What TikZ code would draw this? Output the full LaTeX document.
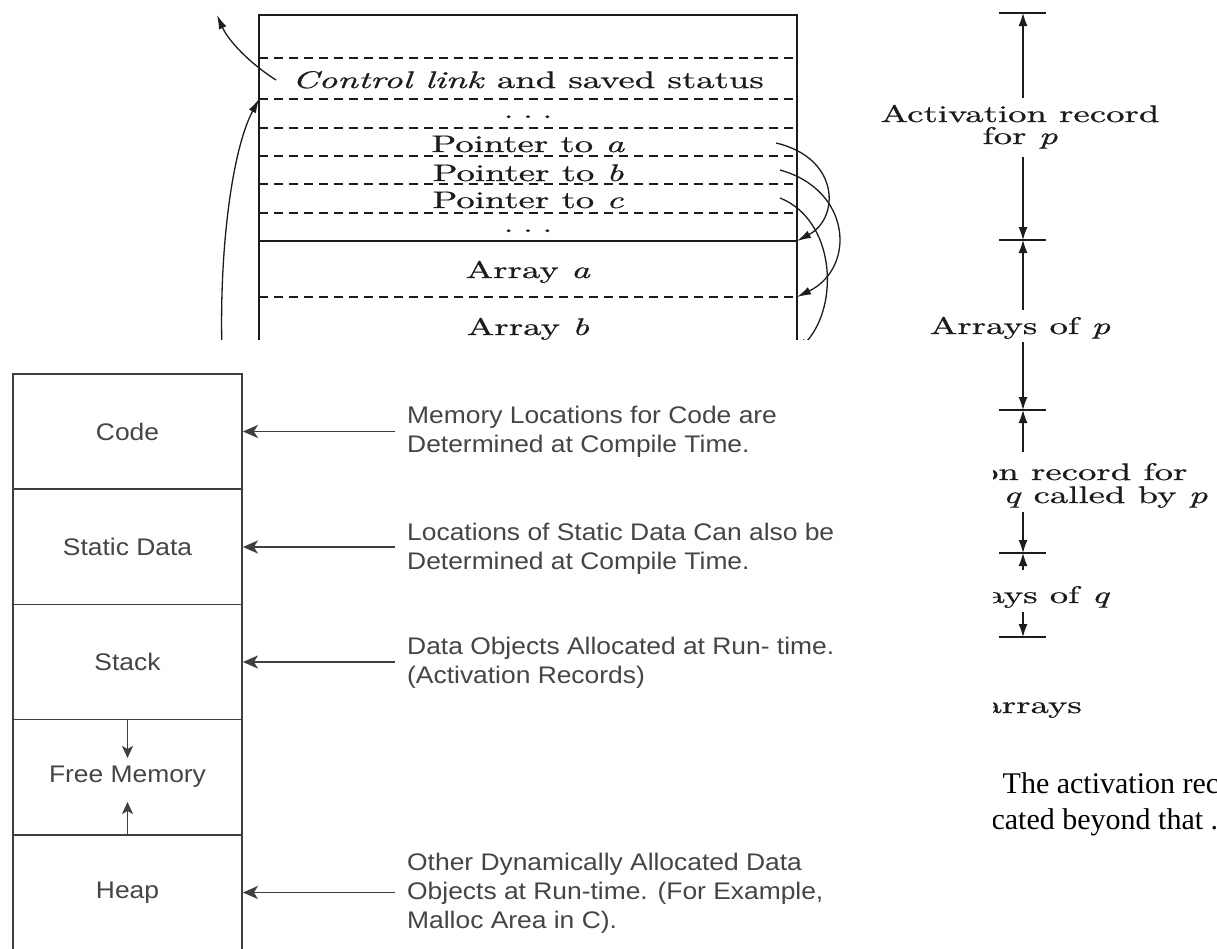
\documentclass[tikz,border=0pt]{standalone}
\usepackage{fontspec}
\usepackage{graphicx}
\usetikzlibrary{arrows.meta}
\newfontfamily\memfont[FakeStretch=1.1]{Liberation Sans}
\newfontfamily\bodyfont{Liberation Serif}
\newfontfamily\bkserif{lmroman10-regular}[Extension=.otf, FakeBold=0.6,
  ItalicFont=lmroman10-italic, ItalicFeatures={FakeBold=0.6}]
\definecolor{ink}{HTML}{1C1C1C}
\definecolor{memline}{HTML}{3F3F3F}
\definecolor{memtext}{HTML}{454545}
\newcommand{\bkfont}{\bkserif\fontsize{24}{23}\selectfont}
\newcommand{\bk}[1]{\scalebox{1.53}[1]{#1}}

\tikzset{
  bkline/.style={draw=ink, line width=1.4pt},
  bkdash/.style={draw=ink, line width=1.2pt, dash pattern=on 9pt off 6pt},
  bktxt/.style={font=\bkfont, text=ink, inner sep=0pt, anchor=base},
  bkarrow/.style={draw=ink, line width=1.3pt, -{Latex[length=14pt,width=8pt]}},
  dimarrow/.style={draw=ink, line width=1.3pt, -{Latex[length=13pt,width=9pt]}},
  dimtick/.style={draw=ink, line width=1.3pt},
  memcell/.style={draw=memline, line width=1.8pt, minimum width=229pt, minimum height=115pt,
    inner sep=0pt, font=\memfont\fontsize{24}{29}\selectfont, text=memtext},
  memtxt/.style={font=\memfont\fontsize{24}{29}\selectfont, text=memtext, align=left,
    anchor=west, inner sep=0pt},
  memarrow/.style={draw=memline, line width=1.8pt, -{Stealth[length=15pt,width=13pt,inset=4pt]}},
  memsmall/.style={draw=memline, line width=1.8pt, -{Stealth[length=12pt,width=11pt,inset=3pt]}},
  bodytxt/.style={font=\bodyfont\fontsize{30}{36}\selectfont, text=black, inner sep=0pt,
    anchor=base west},
}

\begin{document}
\begin{tikzpicture}[x=1pt,y=-1pt]
\useasboundingbox (0,0) rectangle (1217,948);
\clip (0,0) rectangle (1217,948);
\fill[white] (0,0) rectangle (1217,948);

% ---- activation record of p: frame and field separators
\draw[bkline] (259,352) -- (259,15) -- (797,15) -- (797,352);
\foreach \y in {58,99,128,156,184,213,297}
  \draw[bkdash] (259,\y) -- (797,\y);
\draw[bkline] (259,241) -- (797,241);

\node[bktxt] (ctl)  at (528,88)  {\bk{\textit{Control link} and saved status}};
\node[bktxt] (dt1)  at (528,118) {\bk{.\hspace{0.25em}.\hspace{0.25em}.}};
\node[bktxt] (pa)   at (528,152) {\bk{Pointer to \textit{a}}};
\node[bktxt] (pb)   at (528,181) {\bk{Pointer to \textit{b}}};
\node[bktxt] (pc)   at (528,208) {\bk{Pointer to \textit{c}}};
\node[bktxt] (dt2)  at (528,232) {\bk{.\hspace{0.25em}.\hspace{0.25em}.}};
\node[bktxt] (arra) at (528,278) {\bk{Array \textit{a}}};
\node[bktxt] (arrb) at (528,335) {\bk{Array \textit{b}}};

% control link arrows on the left
\coordinate (cls) at (276,80);
\coordinate (cle) at (217,15);
\draw[bkarrow] (cls) .. controls (248,62) and (228,40) .. (cle);
\coordinate (lks) at (222,352);
\coordinate (lke) at (259,99);
\draw[bkarrow] (lks) .. controls (219,250) and (232,150) .. (lke);

% pointers to the arrays
\coordinate (pas) at (776,143);
\coordinate (pbs) at (780,170);
\coordinate (pcs) at (780,198);
\coordinate (ea) at (797,241);
\coordinate (eb) at (797,297);
\coordinate (ec) at (797,352);
\draw[bkarrow] (pas) .. controls (840,158) and (840,218) .. (ea);
\draw[bkarrow] (pbs) .. controls (852,190) and (856,268) .. (eb);
\draw[bkarrow] (pcs) .. controls (835,220) and (840,305) .. (ec);

% ---- extents along the stack
\coordinate (t1) at (1023,13);
\coordinate (t2) at (1023,240);
\coordinate (t3) at (1023,410);
\coordinate (t4) at (1023,553);
\coordinate (t5) at (1023,637);
\foreach \t in {t1,t2,t3,t4,t5}
  \draw[dimtick] ([xshift=-24pt]\t) -- ([xshift=23pt]\t);

\node[bktxt] (arp1) at (1020,122) {\bk{Activation record}};
\node[bktxt] (arp2) at (1020,144) {\bk{for \textit{p}}};
\node[bktxt] (ap)   at (1020,334) {\bk{Arrays of \textit{p}}};
\node[bktxt] (aq1)  at (1020,480) {\bk{Activation record for}};
\node[bktxt] (aq2)  at (1020,503) {\bk{procedure \textit{q} called by \textit{p}}};
\node[bktxt] (arq)  at (1020,603) {\bk{Arrays of \textit{q}}};

\coordinate (s1a) at (1023,98);
\coordinate (s1b) at (1023,157);
\coordinate (s2a) at (1023,310);
\coordinate (s2b) at (1023,342);
\coordinate (s3a) at (1023,452);
\coordinate (s3b) at (1023,512);
\coordinate (s4a) at (1023,570);
\coordinate (s4b) at (1023,612);
\draw[dimarrow] (s1a) -- (t1);
\draw[dimarrow] (s1b) -- (t2);
\draw[dimarrow] (s2a) -- (t2);
\draw[dimarrow] (s2b) -- (t3);
\draw[dimarrow] (s3a) -- (t3);
\draw[dimarrow] (s3b) -- (t4);
\draw[dimarrow] (s4a) -- (t4);
\draw[dimarrow] (s4b) -- (t5);

\node[bktxt, anchor=base east] (cap) at (1082,713) {\bk{allocated arrays}};

\node[bodytxt] (ln1) at (910,793) {d by p. The activation record};
\node[bodytxt] (ln2) at (968,829) {located beyond that . Access};

% ---- run-time memory layout
\fill[white] (0,340) rectangle (993,948);

\node[memcell] (code)  at (127.5,431.5) {Code};
\node[memcell] (stat)  at (127.5,547)   {Static Data};
\node[memcell] (stack) at (127.5,662)   {Stack};
\node[memcell] (free)  at (127.5,777)   {Free Memory};
\node[memcell] (heap)  at (127.5,892.5) {Heap};

\coordinate (fdown) at (127.5,758);
\coordinate (fup)   at (127.5,802);
\draw[memsmall] (free.north) -- (fdown);
\draw[memsmall] (free.south) -- (fup);

\node[memtxt] (d1) at (407,432) {Memory Locations for Code are\\Determined at Compile Time.};
\node[memtxt] (d2) at (407,549) {Locations of Static Data Can also be\\Determined at Compile Time.};
\node[memtxt] (d3) at (407,663) {Data Objects Allocated at Run- time.\\(Activation Records)};
\node[memtxt] (d4) at (407,893) {Other Dynamically Allocated Data\\Objects at Run-time. (For Example,\\Malloc Area in C).};

\draw[memarrow, shorten <=12pt] (d1.west |- code.east)  -- (code.east);
\draw[memarrow, shorten <=12pt] (d2.west |- stat.east)  -- (stat.east);
\draw[memarrow, shorten <=12pt] (d3.west |- stack.east) -- (stack.east);
\draw[memarrow, shorten <=12pt] (d4.west |- heap.east)  -- (heap.east);
\end{tikzpicture}
\end{document}
